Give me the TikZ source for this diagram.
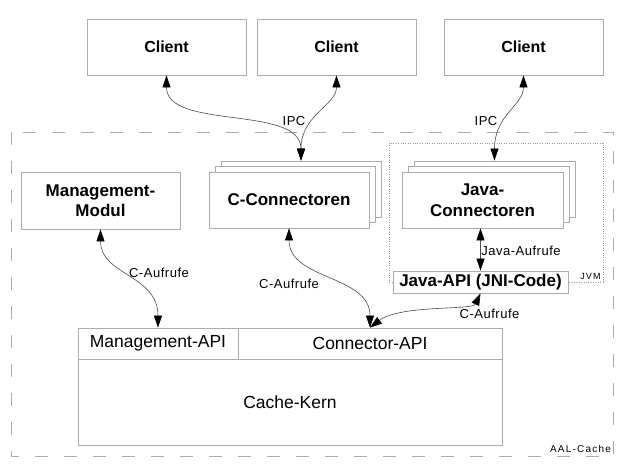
\documentclass[tikz,border=0pt]{standalone}
\usepackage{fontspec}
\setmainfont{Liberation Sans}
\newfontfamily\smallfont[LetterSpace=4]{Liberation Sans}
\newfontfamily\tinyfontx[LetterSpace=12]{Liberation Sans}
\usetikzlibrary{arrows.meta}
\definecolor{boxgray}{gray}{0.68}
\definecolor{linegray}{gray}{0.3}
\definecolor{framegray}{gray}{0.68}
\definecolor{dotgray}{gray}{0.6}
\begin{document}
\begin{tikzpicture}[x=1pt,y=-1pt,
  >={Triangle[length=12pt,width=8pt,color=black]},
  box/.style={draw=boxgray, line width=0.8pt, fill=white, inner sep=0pt, align=center},
  bigbold/.style={font=\fontsize{17}{20.5}\selectfont\bfseries},
  clientfont/.style={font=\fontsize{16}{19}\selectfont\bfseries},
  bigreg/.style={font=\fontsize{17.5}{21}\selectfont},
  conn/.style={draw=linegray, line width=0.6pt, <->},
  lbl/.style={inner sep=0pt, font=\smallfont\fontsize{13}{15}\selectfont},
  tinylbl/.style={inner sep=0pt, font=\tinyfontx\fontsize{10}{12}\selectfont}]
\fill[white] (0,0) rectangle (624,468);
\useasboundingbox (0,0) rectangle (624,468);

% frames
\draw[framegray, line width=0.8pt, dash pattern=on 13pt off 16pt] (11,132) rectangle (613,456);
\draw[dotgray, line width=0.4pt, dash pattern=on 0.8pt off 1.6pt] (389,143) rectangle (603,282);

% clients
\node[box, clientfont, minimum width=159pt, minimum height=56pt] (client1) at (166.5,47) {Client};
\node[box, clientfont, minimum width=159pt, minimum height=56pt] (client2) at (336.5,47) {Client};
\node[box, clientfont, minimum width=159pt, minimum height=56pt] (client3) at (523.5,47) {Client};

% management module
\node[box, bigbold, minimum width=159pt, minimum height=57pt] (mmod) at (100.5,200.5) {Management-\\Modul};

% C connectors stack
\node[box, minimum width=160pt, minimum height=56pt] (cconn3) at (301,189) {};
\node[box, minimum width=160pt, minimum height=56pt] (cconn2) at (295,194.5) {};
\node[box, bigbold, minimum width=160pt, minimum height=56pt] (cconn) at (289,200) {C-Connectoren};

% Java connectors stack
\node[box, minimum width=161pt, minimum height=56pt] (jconn3) at (494.5,189) {};
\node[box, minimum width=161pt, minimum height=56pt] (jconn2) at (488.5,194.5) {};
\node[box, bigbold, minimum width=161pt, minimum height=56pt] (jconn) at (482.5,200) {Java-\\Connectoren};

% Java API
\node[box, bigbold, minimum width=175pt, minimum height=22pt] (japi) at (480.5,282) {Java-API (JNI-Code)};

% cache core
\node[box, bigreg, minimum width=160pt, minimum height=31pt] (mapi) at (158,343.5) {Management-API};
\node[box, bigreg, minimum width=264pt, minimum height=31pt] (capi) at (370,343.5) {Connector-API};
\node[box, bigreg, minimum width=424pt, minimum height=86pt] (kern) at (290,402) {Cache-Kern};

% connectors
\draw[conn] (client1.south) .. controls +(0,55) and +(0,-56) .. (cconn3.north);
\draw[conn] (client2.south) .. controls +(0,30) and +(0,-46) .. (cconn3.north);
\draw[conn] (client3.south) .. controls +(0,30) and +(0,-46) .. (jconn3.north);
\draw[conn] (mmod.south) .. controls +(0,46) and +(0,-53) .. (mapi.north);
\draw[conn] (cconn.south) .. controls +(0,52) and +(0,-53) .. (capi.north);
\draw[conn] (japi.south) .. controls +(-8,17) and +(30,-23) .. (capi.north);
\draw[conn] (japi.north) -- (japi.north |- jconn.south);

% labels
\node[lbl] (ipc1) at (294,121) {IPC};
\node[lbl] (ipc2) at (486,121) {IPC};
\node[lbl] (ca1) at (159,273) {C-Aufrufe};
\node[lbl] (ca2) at (289,283.5) {C-Aufrufe};
\node[lbl] (ca3) at (489.5,313.5) {C-Aufrufe};
\node[lbl] (ja) at (521,251) {Java-Aufrufe};
\node[tinylbl, font=\tinyfontx\fontsize{9}{11}\selectfont] (jvm) at (590.5,276) {JVM};
\node[tinylbl] (aal) at (580.5,448.5) {AAL-Cache};
\end{tikzpicture}
\end{document}
